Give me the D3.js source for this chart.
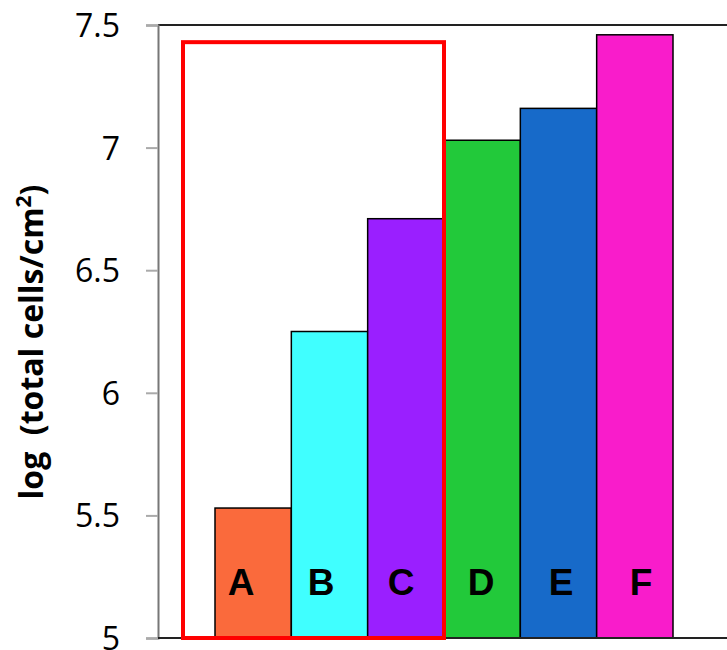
<!DOCTYPE html>
<html><head><meta charset="utf-8">
<script src="https://cdn.jsdelivr.net/npm/d3@7"></script>
<style>body{margin:0;background:#fff}</style></head>
<body><svg id="c" width="727" height="650"></svg>
<script>
const categories = ["A","B","C","D","E","F"];
const values = [5.53, 6.25, 6.71, 7.03, 7.16, 7.46];
const colors = ["#FA6A3C","#40FFFF","#9A1FFF","#22C93A","#176AC9","#F91CCB"];
const yTicks = [5, 5.5, 6, 6.5, 7, 7.5];
const yTickLabels = ["5","5.5","6","6.5","7","7.5"];
const highlight = ["A","B","C"];
const highlightTop = 7.43;

(function(){
const svg = d3.select("#c");
const pLeft = 158, pTop = 25, pBottom = 638, pRight = 727;
const y = d3.scaleLinear().domain([5, 7.5]).range([pBottom, pTop]);
const x = d3.scaleBand().domain(categories).range([215, 673]).padding(0);
const xLab = d3.scaleBand().domain(categories).range([201, 681]).padding(0);

svg.append("line").attr("x1", pLeft).attr("x2", pRight).attr("y1", pTop).attr("y2", pTop)
  .attr("stroke", "#222").attr("stroke-width", 2);

svg.selectAll("rect.bar").data(categories).join("rect").attr("class","bar")
  .attr("x", d => x(d)).attr("width", x.bandwidth())
  .attr("y", (d,i) => y(values[i])).attr("height", (d,i) => pBottom - y(values[i]))
  .attr("fill", (d,i) => colors[i]).attr("stroke", "#000").attr("stroke-width", 1.5);

svg.selectAll("text.cat").data(categories).join("text").attr("class","cat")
  .attr("x", d => xLab(d) + xLab.bandwidth()/2).attr("y", 595)
  .attr("text-anchor","middle").attr("font-family","Liberation Sans, Arial, sans-serif")
  .attr("font-weight","bold").attr("font-size", 37).attr("fill","#000").text(d => d);

const yAxis = d3.axisLeft(y).tickValues(yTicks).tickFormat((d,i) => yTickLabels[i]).tickSize(12).tickPadding(26);
const ga = svg.append("g").attr("transform", `translate(${pLeft},0)`).call(yAxis);
ga.select(".domain").attr("stroke", "#777").attr("stroke-width", 2);
ga.selectAll(".tick line").attr("stroke", "#aaa").attr("stroke-width", 2);
ga.selectAll(".tick text").attr("font-family","Open Sans, Noto Sans, sans-serif")
  .attr("font-size", 32).attr("fill","#000").attr("dy","0.36em");

svg.append("line").attr("x1", pLeft).attr("x2", pRight).attr("y1", pBottom).attr("y2", pBottom)
  .attr("stroke", "#222").attr("stroke-width", 2);

const hx0 = x(highlight[0]) - 32, hx1 = x(highlight[highlight.length-1]) + x.bandwidth();
svg.append("rect").attr("x", hx0).attr("y", y(highlightTop))
  .attr("width", hx1 - hx0).attr("height", y(5) - y(highlightTop))
  .attr("fill","none").attr("stroke","#FF0000").attr("stroke-width", 4);

const t = svg.append("text").attr("transform", "translate(43,342) rotate(-90)")
  .attr("text-anchor","middle").attr("font-family","Open Sans, Noto Sans, sans-serif")
  .attr("font-weight","bold").attr("font-size", 32).attr("fill","#000")
  .style("white-space","pre");
t.append("tspan").text("log  (total cells/cm");
t.append("tspan").attr("font-size", 21).attr("dy", -12).text("2");
t.append("tspan").attr("dy", 12).text(")");
})();
</script></body></html>
